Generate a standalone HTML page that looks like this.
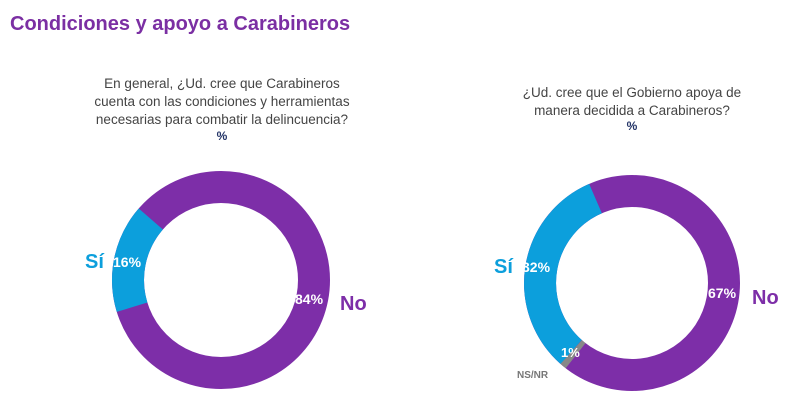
<!DOCTYPE html>
<html><head><meta charset="utf-8"><style>
body{margin:0;background:#fff;}
svg{display:block;font-family:"Liberation Sans",sans-serif;}
</style></head><body>
<svg width="800" height="414" viewBox="0 0 800 414">
<text x="10" y="30" font-size="20" font-weight="bold" fill="#7B2FA3">Condiciones y apoyo a Carabineros</text>
<g font-size="13.5" fill="#444" text-anchor="middle">
<text x="222" y="88">En general, ¿Ud. cree que Carabineros</text>
<text x="222" y="106">cuenta con las condiciones y herramientas</text>
<text x="222" y="124">necesarias para combatir la delincuencia?</text>
<text x="222" y="140" font-weight="bold" fill="#223366" font-size="12">%</text>
<text x="632" y="97">¿Ud. cree que el Gobierno apoya de</text>
<text x="632" y="115">manera decidida a Carabineros?</text>
<text x="632" y="130" font-weight="bold" fill="#223366" font-size="12">%</text>
</g>
<circle cx="221" cy="280" r="93" fill="none" stroke="#7D2EA8" stroke-width="32"/>
<path d="M132.1 307.2 A93 93 0 0 1 150.8 219.0" fill="none" stroke="#0C9FDC" stroke-width="32"/>
<circle cx="632" cy="283" r="92" fill="none" stroke="#7D2EA8" stroke-width="32"/>
<path d="M571.2 352.0 A92 92 0 0 1 595.5 198.6" fill="none" stroke="#0C9FDC" stroke-width="32"/>
<path d="M575.6 355.7 A92 92 0 0 1 571.2 352.0" fill="none" stroke="#888" stroke-width="32"/>
<g font-weight="bold">
<text x="85" y="268" font-size="20" fill="#0C9FDC">Sí</text>
<text x="113" y="267" font-size="14" fill="#fff">16%</text>
<text x="295" y="304" font-size="14" fill="#fff">84%</text>
<text x="340" y="310" font-size="20" fill="#7D2EA8">No</text>
<text x="494" y="273" font-size="20" fill="#0C9FDC">Sí</text>
<text x="522" y="272" font-size="14" fill="#fff">32%</text>
<text x="708" y="298" font-size="14" fill="#fff">67%</text>
<text x="752" y="304" font-size="20" fill="#7D2EA8">No</text>
<text x="561" y="357" font-size="13" fill="#fff">1%</text>
<text x="517" y="378" font-size="10" fill="#777">NS/NR</text>
</g>
</svg>
</body></html>
